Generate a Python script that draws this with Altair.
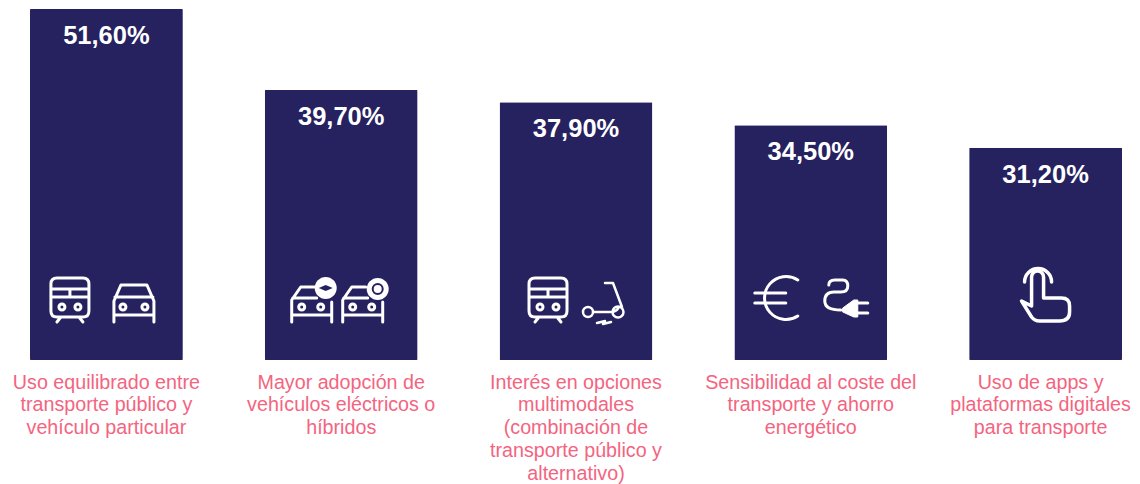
import altair as alt
import pandas as pd

# ---- data ----
categories = [
    "Uso equilibrado entre\ntransporte público y\nvehículo particular",
    "Mayor adopción de\nvehículos eléctricos o\nhíbridos",
    "Interés en opciones\nmultimodales\n(combinación de\ntransporte público y\nalternativo)",
    "Sensibilidad al coste del\ntransporte y ahorro\nenergético",
    "Uso de apps y\nplataformas digitales\npara transporte",
]
values = [51.6, 39.7, 37.9, 34.5, 31.2]
value_labels = ["51,60%", "39,70%", "37,90%", "34,50%", "31,20%"]

NAVY = "#26215F"
PINK = "#F4647F"
FONT = "Liberation Sans"

df = pd.DataFrame({"cat": categories, "value": values, "label": value_labels})

x_enc = alt.X(
    "cat:N",
    sort=categories,
    scale=alt.Scale(paddingInner=0.349, paddingOuter=0),
    axis=alt.Axis(
        title=None, domain=False, ticks=False, grid=False, labelAngle=0,
        labelExpr="split(datum.value, '\\n')",
        labelColor=PINK, labelFont=FONT, labelFontSize=19.7,
        labelLineHeight=22.8, labelPadding=12, labelLimit=400,
        labelOverlap=False, labelFlush=False, labelBaseline="top",
        labelOffset={"condition": {"test": "datum.index == 1", "value": -5}, "value": 0},
    ),
)
y_enc = alt.Y("value:Q", scale=alt.Scale(domain=[0, 51.6], nice=False), axis=None)

bars = alt.Chart(df).mark_bar(color=NAVY, cornerRadius=1).encode(x=x_enc, y=y_enc)
texts = alt.Chart(df).mark_text(
    color="white", font=FONT, fontWeight="bold", fontSize=25.5, dy=27
).encode(x=alt.X("cat:N", sort=categories), y=alt.Y("value:Q"), text="label:N")

# ---- icon outlines (pixel units around each icon's centre; size=4 gives 1:1) ----
TRAIN = ("M-13,-22H13Q19,-22 19,-16V11Q19,17 13,17H-13Q-19,17 -19,11V-16Q-19,-22 -13,-22Z"
         "M-19,-11H19M-19,-3H19M0,-11V-3"
         "M-5,7A3,3 0 1 1 -11,7A3,3 0 1 1 -5,7ZM11,7A3,3 0 1 1 5,7A3,3 0 1 1 11,7Z"
         "M-9,17L-13,22M9,17L13,22")
CAR = ("M-20,19V-2L-13,-18H13L20,-2V19M-19,-6H19M-20,12H20"
       "M-8,4A3,3 0 1 1 -14,4A3,3 0 1 1 -8,4ZM14,4A3,3 0 1 1 8,4A3,3 0 1 1 14,4Z")
EV = ("M-20,19V-3L-11,-16H3M-19,-5H5M-20,12H20M20,19V-1"
      "M-7,4A3,3 0 1 1 -13,4A3,3 0 1 1 -7,4ZM12,4A3,3 0 1 1 6,4A3,3 0 1 1 12,4Z")
DISC = "M11,0A11,11 0 1 1 -11,0A11,11 0 1 1 11,0Z"
DASH = "M-7,0L0,-3L7,0L0,3Z"
RING = "M5,0A5,5 0 1 1 -5,0A5,5 0 1 1 5,0Z"
SCOOTER = ("M1,-21H9L18,3M-11,8H9Q13,7 15,3"
           "M-11,8A5,5 0 1 1 -21,8A5,5 0 1 1 -11,8Z"
           "M19.5,8A5.5,5.5 0 1 1 8.5,8A5.5,5.5 0 1 1 19.5,8Z"
           "M-7,19L1,17L-1,20L7,18")
EURO = "M20,-18A21.5,21.5 0 1 0 20,18M-23,-5H8M-23,5H8"
CABLE = "M-17,-13Q-17,-18 -11,-18H-3Q2,-18 2,-12Q2,-6 -5,-6H-12Q-21,-6 -21,3Q-21,12 -5,12"
PLUG = "M-3,10L8,2H12V19H8L-3,14Z"
PRONGS = "M12,5H22M12,15H22"
HAND = ("M-21,-10A13.5,13.5 0 1 1 6,-10"
        "M-14,14V-15A6,6 0 0 1 -2,-15V6H16Q24,6 24,14V20Q24,29 14,29H-6Q-11,29 -14,25L-24,9L-14,14")


def icon(cat, path, dx, y, filled=False, color="white", sw=3):
    style = dict(shape=path, size=4, xOffset=dx, opacity=1, filled=filled, strokeWidth=sw,
                 strokeCap="round", strokeJoin="round")
    if filled:
        style.update(fill=color, stroke=color)
    else:
        style.update(stroke=color)
    return (
        alt.Chart(pd.DataFrame({"cat": [categories[cat]]}))
        .mark_point(**style)
        .encode(x=alt.X("cat:N", sort=categories), y=alt.value(y))
    )


icons = [
    icon(0, TRAIN, -36.5, 291), icon(0, CAR, 27.5, 294),
    icon(1, EV, -29.5, 294), icon(1, DISC, -15.5, 279, filled=True, sw=0),
    icon(1, DASH, -15.5, 279, filled=True, color=NAVY, sw=0),
    icon(1, EV, 21.5, 294), icon(1, DISC, 36.5, 280, filled=True, sw=0),
    icon(1, RING, 36.5, 280, color=NAVY, sw=2),
    icon(2, TRAIN, -28, 291), icon(2, SCOOTER, 28, 295, sw=2.5),
    icon(3, EURO, -33, 289), icon(3, CABLE, 35, 289),
    icon(3, PLUG, 35, 289, filled=True, sw=1), icon(3, PRONGS, 35, 289),
    icon(4, HAND, 0, 283, sw=3.5),
]

chart = (
    alt.layer(bars, texts, *icons)
    .properties(
        width=1092, height=351,
        padding={"left": 22, "top": 1, "right": 10, "bottom": 124},
        autosize=alt.AutoSizeParams(type="none"),
        view=alt.ViewBackground(stroke="transparent"),
    )
    .configure(background="white")
)

chart.save("out.html", embed_options={"renderer": "svg", "actions": False})
